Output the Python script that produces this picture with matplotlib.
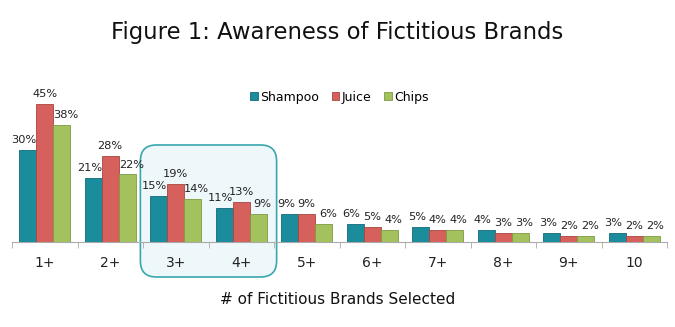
import matplotlib
matplotlib.use("Agg")
import matplotlib.pyplot as plt
from matplotlib.patches import FancyBboxPatch
import numpy as np

categories = ["1+", "2+", "3+", "4+", "5+", "6+", "7+", "8+", "9+", "10"]
shampoo = [30, 21, 15, 11, 9, 6, 5, 4, 3, 3]
juice = [45, 28, 19, 13, 9, 5, 4, 3, 2, 2]
chips = [38, 22, 14, 9, 6, 4, 4, 3, 2, 2]
series_names = ["Shampoo", "Juice", "Chips"]
colors = ["#1b8c9c", "#d6605c", "#a3c25e"]
edges = ["#126a77", "#a9443f", "#7f9a43"]

plt.rcParams['font.family'] = ['DejaVu Sans']
label_font = ['Liberation Sans Narrow', 'DejaVu Sans']

W, H = 675, 327
fig = plt.figure(figsize=(W / 100, H / 100), dpi=100)
ax_left, ax_right = 12, 667
ax_base, ax_top = 242, 88.5
ax = fig.add_axes([ax_left / W, 1 - ax_base / H, (ax_right - ax_left) / W, (ax_base - ax_top) / H])

x = np.arange(len(categories))
w = 0.26
label_shift = [-0.06, 0.0, 0.06]
for i, (vals, name) in enumerate(zip([shampoo, juice, chips], series_names)):
    pos = x + (i - 1) * w
    ax.bar(pos, vals, width=w, color=colors[i], edgecolor=edges[i], linewidth=0.6, label=name, zorder=3)
    for px, v in zip(pos, vals):
        ax.text(px + label_shift[i], v + 1.6, f"{v}%", ha="center", va="bottom", fontsize=8.2,
                color="#222222", family=label_font, zorder=4)

ymax = 50
ax.set_xlim(-0.5, len(categories) - 0.5)
ax.set_ylim(0, ymax)
ax.set_yticks([])
for s in ["top", "right", "left"]:
    ax.spines[s].set_visible(False)
ax.spines["bottom"].set_color("#aaaaaa")
ax.set_xticks(x)
ax.set_xticklabels(categories, fontsize=10, color="#222222")
ax.tick_params(axis="x", length=0, pad=10)
ax.set_xticks(np.arange(-0.5, len(categories)), minor=True)
ax.tick_params(axis="x", which="minor", length=4, color="#aaaaaa")

# highlight box around 3+ and 4+ (rounded corners kept circular in pixels)
px_per_x = (ax_right - ax_left) / len(categories)
px_per_y = (ax_base - ax_top) / ymax
box = FancyBboxPatch((1.46, -11.4), 2.08, 43.0,
                     boxstyle="round,pad=0,rounding_size=%f" % (16 / px_per_x),
                     mutation_aspect=px_per_x / px_per_y,
                     transform=ax.transData, facecolor="#eef7f9", edgecolor="#3aa6ae",
                     linewidth=1.2, clip_on=False, zorder=1)
ax.add_patch(box)

leg = ax.legend(loc="center", bbox_to_anchor=(0.5, 1 - (97 - ax_top) / (ax_base - ax_top)), ncol=3,
                frameon=False, fontsize=9, handlelength=0.6, handleheight=0.6,
                handletextpad=0.2, columnspacing=1.0)

fig.text(0.5, 1 - 33 / H, "Figure 1: Awareness of Fictitious Brands", ha="center", va="center",
         fontsize=16.4, color="#111111")
fig.text(0.5, 1 - 300 / H, "# of Fictitious Brands Selected", ha="center", va="center",
         fontsize=11, color="#111111")

fig.savefig("out.png", dpi=100)
